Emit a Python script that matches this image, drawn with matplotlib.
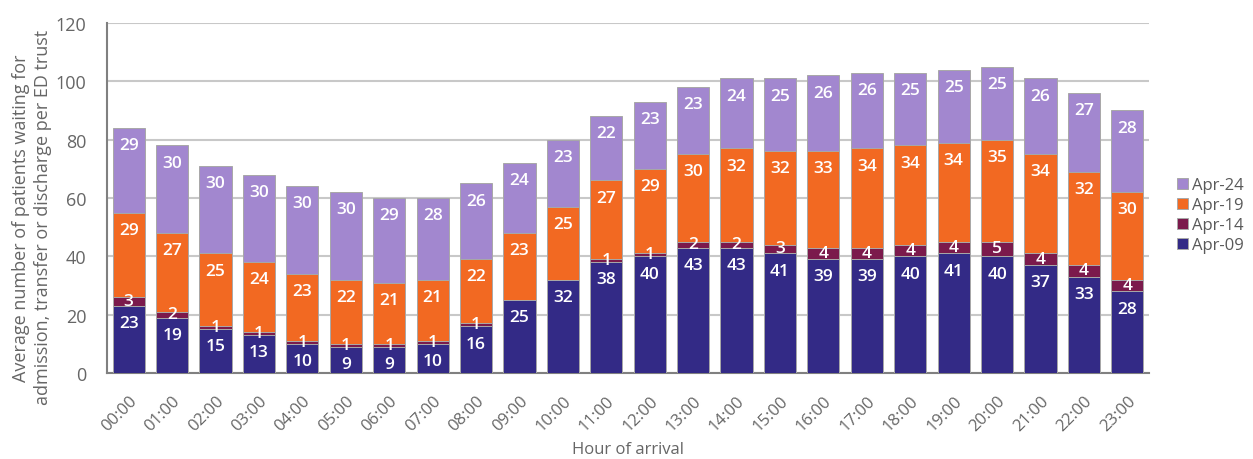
import matplotlib
matplotlib.use("Agg")
import matplotlib.pyplot as plt
import numpy as np

hours = ["00:00","01:00","02:00","03:00","04:00","05:00","06:00","07:00","08:00","09:00","10:00","11:00",
         "12:00","13:00","14:00","15:00","16:00","17:00","18:00","19:00","20:00","21:00","22:00","23:00"]
apr09 = [23,19,15,13,10,9,9,10,16,25,32,38,40,43,43,41,39,39,40,41,40,37,33,28]
apr14 = [3,2,1,1,1,1,1,1,1,0,0,1,1,2,2,3,4,4,4,4,5,4,4,4]
apr19 = [29,27,25,24,23,22,21,21,22,23,25,27,29,30,32,32,33,34,34,34,35,34,32,30]
apr24 = [29,30,30,30,30,30,29,28,26,24,23,22,23,23,24,25,26,26,25,25,25,26,27,28]

series = [("Apr-09", apr09, "#332a86"), ("Apr-14", apr14, "#7b1a4c"),
          ("Apr-19", apr19, "#f26922"), ("Apr-24", apr24, "#a287cf")]

plt.rcParams['font.family'] = ['Open Sans', 'DejaVu Sans']
fig = plt.figure(figsize=(12.53, 4.6), dpi=100)
ax = fig.add_axes([0.0854, 0.187, 0.8316, 0.761])

x = np.arange(len(hours))
bottom = np.zeros(len(hours))
handles = []
for name, vals, col in series:
    v = np.array(vals, dtype=float)
    bars = ax.bar(x, v, 0.74, bottom=bottom, color=col, edgecolor="#a8a8a8", linewidth=0.7,
                  label=name, zorder=3)
    handles.append(bars)
    for xi, vi, bi in zip(x, v, bottom):
        if vi <= 0:
            continue
        if name == "Apr-14":
            y = bi + vi / 2 + 0.2
        else:
            y = bi + vi - 5.9
        ax.text(xi, y, f"{int(vi)}", ha="center", va="center", color="white",
                fontsize=12.5, fontweight="semibold", zorder=4)
    bottom += v

ax.set_xlim(-0.5, 23.5)
ax.set_ylim(0, 120)
ax.set_yticks(range(0, 121, 20))
ax.yaxis.grid(True, color="#c8c8c8", linewidth=1.5, zorder=0)
ax.set_axisbelow(True)
for s in ["top", "right"]:
    ax.spines[s].set_visible(False)
ax.spines["left"].set_color("#808080")
ax.spines["bottom"].set_color("#808080")
ax.spines["left"].set_linewidth(1.5)
ax.spines["bottom"].set_linewidth(1.5)
ax.tick_params(axis="both", length=0, labelcolor="#666666")
ax.tick_params(axis="y", pad=15, labelsize=13)
ax.set_xticks(x)
ax.set_xticklabels(hours, rotation=45, ha="right", rotation_mode="anchor")
ax.tick_params(axis="x", pad=14, labelsize=12)
ax.set_xlabel("Hour of arrival", fontsize=12, color="#666666", labelpad=5)
ax.set_ylabel("Average number of patients waiting for\nadmission, transfer or discharge per ED trust",
              fontsize=13, color="#666666", linespacing=1.25)
ax.yaxis.set_label_coords(-0.053, 0.446)

leg = fig.legend(handles[::-1], [s[0] for s in series][::-1], loc="center left",
                 bbox_to_anchor=(0.933, 0.530), frameon=False, fontsize=12,
                 handlelength=0.65, handleheight=0.65, handletextpad=0.25, labelspacing=0.25,
                 labelcolor="#595959", borderpad=0)

fig.savefig("out.png", dpi=100)
